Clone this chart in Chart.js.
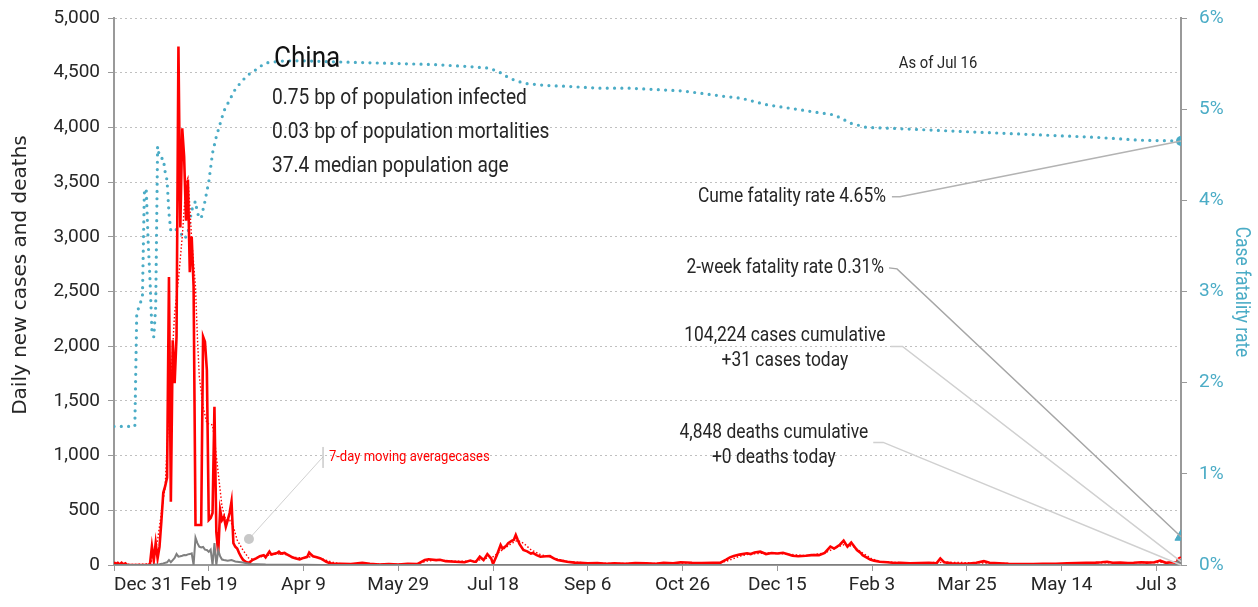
<!DOCTYPE html>
<html>
<head>
<meta charset="utf-8">
<script src="https://cdn.jsdelivr.net/npm/chart.js@4.4.0/dist/chart.umd.min.js"></script>
<style>
html, body { margin: 0; padding: 0; background: #fff; }
#wrap { width: 1258px; height: 607px; position: relative; }
</style>
</head>
<body>
<div id="wrap"><canvas id="myChart"></canvas></div>
<script>
// x values are days counted from Dec 31, 2019
const tickDays = [0, 50, 100, 150, 200, 250, 300, 350, 400, 450, 500, 550];
const tickLabels = ['Dec 31', 'Feb 19', 'Apr 9', 'May 29', 'Jul 18', 'Sep 6', 'Oct 26', 'Dec 15', 'Feb 3', 'Mar 25', 'May 14', 'Jul 3'];
const lastDay = 563;

// daily new cases [day, cases]
const dailyCases = [
  [0,25],[1,10],[2,20],[3,5],[4,20],[5,5],[6,15],[7,0],[12,0],[18,0],[19,10],[20,170],[21,40],[22,200],[23,60],
  [24,165],[25,400],[26,660],[27,720],[28,800],[29,2632],[30,578],[31,2054],[32,1661],[33,2089],[34,4739],
  [35,3086],[36,3991],[37,3733],[38,3147],[39,3523],[40,2676],[41,3001],[42,2546],[43,366],[44,366],[45,366],
  [46,366],[47,2087],[48,2040],[49,1782],[50,411],[51,430],[52,475],[53,1447],[54,300],[55,110],[56,503],
  [57,411],[58,440],[59,350],[60,411],[61,475],[62,579],[63,200],[64,167],[65,150],[66,110],[67,76],[68,50],
  [69,35],[70,25],[71,20],[72,30],[73,45],[75,60],[77,80],[79,90],[80,70],[82,122],[83,95],[84,100],[86,110],
  [87,122],[88,105],[90,110],[91,100],[93,80],[94,70],[96,60],[98,52],[100,65],[102,75],[103,113],[104,95],
  [105,80],[107,70],[109,60],[111,40],[112,30],[114,15],[116,10],[120,12],[125,8],[131,20],[135,10],[140,5],
  [145,8],[150,5],[155,10],[160,8],[164,45],[166,52],[170,45],[172,48],[175,35],[180,30],[185,25],[188,40],
  [190,30],[191,30],[193,76],[195,45],[197,100],[199,60],[200,10],[202,90],[204,183],[205,150],[207,175],
  [208,200],[210,222],[211,230],[212,274],[213,230],[214,190],[216,137],[218,125],[220,105],[221,110],
  [223,90],[225,76],[228,80],[230,82],[232,60],[234,46],[236,40],[239,30],[243,22],[246,20],[250,15],
  [255,18],[260,12],[264,15],[270,12],[275,18],[281,15],[286,10],[290,20],[295,15],[299,25],[305,20],
  [310,18],[316,20],[320,22],[323,50],[325,70],[327,82],[330,95],[334,107],[336,100],[338,115],[341,122],
  [344,100],[347,110],[350,105],[353,112],[356,95],[358,85],[361,80],[365,85],[368,90],[372,90],[375,110],
  [378,168],[380,150],[383,185],[385,222],[387,168],[389,205],[391,160],[392,137],[394,110],[395,90],
  [397,70],[399,50],[401,40],[404,30],[408,25],[412,18],[415,20],[420,15],[425,18],[430,20],[434,15],
  [436,60],[438,25],[442,15],[446,12],[450,10],[455,20],[459,35],[462,20],[467,15],[472,10],[478,8],
  [485,8],[490,12],[497,10],[503,15],[508,18],[513,20],[518,22],[521,25],[524,30],[527,20],[531,22],
  [535,18],[538,20],[542,25],[545,22],[549,25],[552,40],[555,20],[558,25],[561,20],[563,31]
];

// 7-day moving average of cases [day, cases]
const avgCases = [
  [0,10],[10,5],[19,10],[21,76],[23,228],[25,475],[27,716],[28,1081],[30,1691],[32,2303],[34,2605],
  [36,3001],[38,3490],[39,3537],[40,3275],[41,2971],[43,2544],[44,2087],[45,1721],[47,1447],[49,1295],
  [52,1280],[53,1150],[55,840],[57,533],[59,411],[61,411],[63,350],[65,228],[68,137],[71,64],[74,50],
  [76,70],[80,85],[85,100],[90,100],[95,70],[100,65],[105,80],[110,55],[115,25],[120,12],[130,12],
  [140,8],[150,6],[160,12],[165,35],[170,45],[180,35],[190,35],[195,55],[200,75],[205,140],[210,200],
  [213,225],[216,200],[220,140],[225,95],[230,75],[235,50],[240,30],[250,18],[260,15],[280,14],[300,18],
  [320,20],[325,45],[330,80],[335,100],[345,110],[355,100],[365,85],[375,110],[380,150],[385,185],
  [390,170],[395,110],[400,55],[405,30],[420,18],[440,25],[460,18],[480,10],[500,12],[520,20],[540,22],
  [563,25]
];

// daily new deaths [day, deaths]
const dailyDeaths = [
  [0,0],[20,0],[22,5],[24,8],[26,15],[28,25],[29,46],[30,26],[31,45],[32,64],[33,100],[34,76],[35,80],
  [36,85],[37,91],[38,89],[39,97],[40,100],[41,107],[42,0],[43,250],[44,200],[45,167],[46,160],[47,165],
  [48,140],[49,137],[50,120],[51,140],[52,0],[53,200],[54,0],[55,137],[56,80],[57,50],[58,46],[60,40],
  [62,45],[64,32],[66,28],[68,22],[70,15],[72,10],[75,8],[80,5],[90,3],[100,2],[110,1],[120,0],[563,0]
];

// cumulative case fatality rate, % [day, pct]
const fatalityRate = [
  [0,1.52],[11,1.52],[12,2.76],[13,2.82],[15,2.94],[16,4.08],[17,4.13],[18,3.56],[19,3.13],[20,2.58],
  [21,2.50],[22,2.83],[23,4.59],[24,4.48],[25,4.46],[26,4.46],[27,4.31],[28,4.22],[29,3.86],[30,3.66],
  [31,3.67],[33,3.68],[35,3.64],[36,3.62],[37,3.58],[38,3.60],[39,3.64],[40,3.77],[41,3.89],[42,3.95],
  [43,3.99],[44,3.86],[45,3.82],[46,3.80],[47,3.90],[48,3.99],[49,4.10],[50,4.20],[52,4.52],[54,4.70],
  [56,4.84],[58,4.98],[61,5.10],[64,5.22],[68,5.32],[71,5.38],[74,5.42],[78,5.48],[81,5.51],[90,5.53],
  [100,5.53],[115,5.52],[133,5.51],[150,5.50],[168,5.49],[185,5.47],[198,5.45],[203,5.41],[207,5.36],
  [212,5.31],[218,5.28],[228,5.26],[239,5.25],[256,5.23],[272,5.23],[300,5.20],[322,5.14],[331,5.12],
  [344,5.05],[366,4.98],[379,4.94],[384,4.90],[388,4.85],[397,4.80],[410,4.79],[432,4.77],[453,4.75],
  [475,4.73],[497,4.71],[519,4.69],[541,4.66],[563,4.65]
];
const twoWeekRate = 0.31;

const FONT = 'Roboto, "Liberation Sans", sans-serif';
const WIDE = '"DejaVu Sans", sans-serif';
const SX = 0.87; // condensed look for the notes
const BLUE = '#4bacc6';
const RED = '#ff0000';
const GREY = '#7f7f7f';
const TEXT = '#262626';

const toXY = arr => arr.map(p => ({x: p[0], y: p[1]}));
const onlyLast = r => ctx => ctx.dataIndex === ctx.dataset.data.length - 1 ? r : 0;

// draws condensed text, returns its drawn width
function txt(ctx, s, px, py, size, color, align, sx, fam) {
  sx = sx || SX;
  ctx.save();
  ctx.font = size + 'px ' + (fam || FONT);
  ctx.fillStyle = color;
  ctx.textAlign = align || 'left';
  ctx.textBaseline = 'middle';
  ctx.translate(px, py);
  ctx.scale(sx, 1);
  ctx.fillText(s, 0, 0);
  const w = ctx.measureText(s).width * sx;
  ctx.restore();
  return w;
}
function line(ctx, pts, color, w) {
  ctx.beginPath();
  ctx.strokeStyle = color;
  ctx.lineWidth = w;
  ctx.moveTo(pts[0][0], pts[0][1]);
  for (let i = 1; i < pts.length; i++) ctx.lineTo(pts[i][0], pts[i][1]);
  ctx.stroke();
}

// Text notes and leader lines
const notesPlugin = {
  id: 'notes',
  afterDatasetsDraw(chart) {
    const {ctx, scales: {x, y, y1}} = chart;
    const X = d => x.getPixelForValue(d);
    const Y = v => y.getPixelForValue(v);
    const endX = X(lastDay);
    const cfrEnd = [endX, y1.getPixelForValue(fatalityRate[fatalityRate.length - 1][1])];
    const triEnd = [endX, y1.getPixelForValue(twoWeekRate)];
    const caseEnd = [endX, Y(dailyCases[dailyCases.length - 1][1])];
    const deathEnd = [endX, Y(dailyDeaths[dailyDeaths.length - 1][1])];
    ctx.save();

    // country block
    txt(ctx, 'China', X(84.4), Y(4619), 29, '#111', 'left', 0.9);
    txt(ctx, '0.75 bp of population infected', X(83.4), Y(4262), 22, TEXT);
    txt(ctx, '0.03 bp of population mortalities', X(83.4), Y(3951), 22, TEXT);
    txt(ctx, '37.4 median population age', X(83.4), Y(3640), 22, TEXT);
    txt(ctx, 'As of Jul 16', X(434.8), Y(4582), 17, TEXT, 'center');

    // cume fatality rate
    let py = Y(3366), px = X(407.3);
    txt(ctx, 'Cume fatality rate 4.65%', px, py, 20, TEXT, 'right');
    line(ctx, [[px + 6, py], [px + 14, py], cfrEnd], '#b3b3b3', 1.5);

    // 2-week fatality rate
    py = Y(2716); px = X(406.3);
    txt(ctx, '2-week fatality rate 0.31%', px, py, 20, TEXT, 'right');
    line(ctx, [[px + 5, py], [px + 13, py + 1], triEnd], '#a6a6a6', 1.5);

    // cases block
    px = X(354);
    let w = txt(ctx, '104,224 cases cumulative', px, Y(2094), 20, TEXT, 'center');
    txt(ctx, '+31 cases today', px, Y(1866), 20, TEXT, 'center');
    py = (Y(2094) + Y(1866)) / 2 - 2;
    line(ctx, [[px + w / 2 + 5, py], [px + w / 2 + 17, py], caseEnd], '#d0d0d0', 1.5);

    // deaths block
    px = X(348.2);
    w = txt(ctx, '4,848 deaths cumulative', px, Y(1207), 20, TEXT, 'center');
    txt(ctx, '+0 deaths today', px, Y(979), 20, TEXT, 'center');
    py = (Y(1207) + Y(979)) / 2 - 3;
    line(ctx, [[px + w / 2 + 5, py], [px + w / 2 + 15, py], deathEnd], '#d0d0d0', 1.5);

    // moving average label
    line(ctx, [[X(71.2), Y(238)], [X(110.3), Y(989)]], '#d0d0d0', 1);
    line(ctx, [[X(110.3), Y(1079)], [X(110.3), Y(887)]], '#b0b0b0', 1);
    ctx.beginPath();
    ctx.fillStyle = '#c8c8c8';
    ctx.arc(X(71.2), Y(238), 5, 0, Math.PI * 2);
    ctx.fill();
    txt(ctx, '7-day moving averagecases', X(113.4), Y(988), 15, RED);

    // axis titles
    ctx.translate(21, 275);
    ctx.rotate(-Math.PI / 2);
    txt(ctx, 'Daily new cases and deaths', 0, 0, 20, TEXT, 'center', 1, WIDE);
    ctx.setTransform(1, 0, 0, 1, 0, 0);
    ctx.translate(1241, 292);
    ctx.rotate(Math.PI / 2);
    txt(ctx, 'Case fatality rate', 0, 0, 20, BLUE, 'center');
    ctx.restore();
  }
};

// keep the axes from pushing the plot area in
const fixSize = (w, h) => s => {
  if (w) s.width = w;
  if (h) s.height = h;
  s.paddingTop = 0;
  s.paddingBottom = 0;
  s.paddingLeft = 0;
  s.paddingRight = 0;
};

const ctx = document.getElementById('myChart').getContext('2d');
const myChart = new Chart(ctx, {
  type: 'line',
  data: {
    datasets: [
      {
        label: '2-week fatality rate',
        data: [{x: lastDay, y: twoWeekRate}],
        yAxisID: 'y1',
        showLine: false,
        pointStyle: 'triangle',
        pointRadius: 7,
        backgroundColor: BLUE,
        borderColor: BLUE,
        order: 0
      },
      {
        label: 'deaths',
        data: toXY(dailyDeaths),
        yAxisID: 'y',
        borderColor: GREY,
        backgroundColor: GREY,
        borderWidth: 2,
        pointRadius: onlyLast(6),
        pointBorderWidth: 0,
        order: 1
      },
      {
        label: 'cases',
        data: toXY(dailyCases),
        yAxisID: 'y',
        borderColor: RED,
        backgroundColor: '#fff',
        borderWidth: 2.6,
        pointRadius: onlyLast(4),
        pointBorderWidth: 2,
        order: 2
      },
      {
        label: '7-day moving average cases',
        data: toXY(avgCases),
        yAxisID: 'y',
        borderColor: RED,
        borderWidth: 1.4,
        borderDash: [1.5, 2],
        pointRadius: 0,
        order: 3
      },
      {
        label: 'Case fatality rate',
        data: toXY(fatalityRate),
        yAxisID: 'y1',
        borderColor: BLUE,
        backgroundColor: BLUE,
        borderWidth: 3.2,
        borderDash: [0, 7.3],
        borderCapStyle: 'round',
        pointRadius: onlyLast(5),
        pointBorderWidth: 0,
        order: 4
      }
    ]
  },
  options: {
    responsive: true,
    maintainAspectRatio: false,
    animation: false,
    layout: { padding: { top: 18, left: 0, right: 0, bottom: 0 } },
    plugins: { legend: { display: false }, tooltip: { enabled: false } },
    elements: { line: { tension: 0 } },
    scales: {
      x: {
        type: 'linear',
        min: 0,
        max: lastDay,
        afterBuildTicks: s => { s.ticks = tickDays.concat([lastDay]).map(v => ({value: v})); },
        afterFit: fixSize(0, 42),
        grid: {
          drawOnChartArea: false,
          tickLength: 6,
          tickColor: c => (c.tick && c.tick.value === lastDay) ? 'rgba(0,0,0,0)' : '#999'
        },
        border: { color: '#999', width: 2 },
        ticks: {
          autoSkip: false,
          maxRotation: 0,
          align: 'inner',
          padding: 3,
          color: TEXT,
          font: { family: FONT, size: 19 },
          callback: v => { const i = tickDays.indexOf(v); return i >= 0 ? tickLabels[i] : ''; }
        }
      },
      y: {
        position: 'left',
        min: 0,
        max: 5000,
        afterFit: fixSize(114, 0),
        grid: { color: '#c0c0c0', lineWidth: 1, tickLength: 6, tickColor: '#999', tickBorderDash: [] },
        border: { color: '#999', width: 2, dash: [2, 3] },
        ticks: {
          stepSize: 500,
          padding: 8,
          color: TEXT,
          font: { family: FONT, size: 19 },
          callback: v => v.toLocaleString('en-US')
        }
      },
      y1: {
        position: 'right',
        min: 0,
        max: 6,
        afterFit: fixSize(77, 0),
        grid: { drawOnChartArea: false, tickLength: 6, tickColor: '#999' },
        border: { color: '#999', width: 2 },
        ticks: {
          stepSize: 1,
          padding: 12,
          color: BLUE,
          font: { family: FONT, size: 19 },
          callback: v => v + '%'
        }
      }
    }
  },
  plugins: [notesPlugin]
});
</script>
</body>
</html>
